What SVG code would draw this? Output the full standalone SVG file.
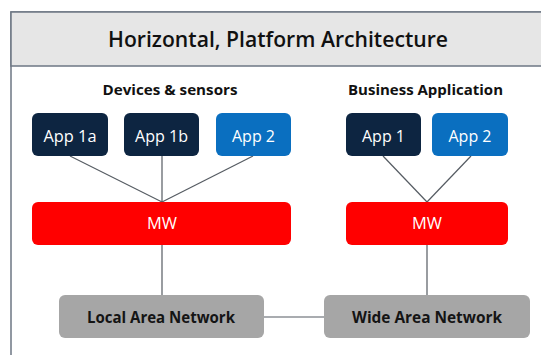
<svg xmlns="http://www.w3.org/2000/svg" width="541" height="355" viewBox="0 0 541 355">
<style>
.t{font-family:"Open Sans","Noto Sans","Liberation Sans",sans-serif;}
.app{fill:#0d2541;}
.app2{fill:#0a6fc0;}
.mw{fill:#ff0000;}
.net{fill:#a6a6a6;}
.lbl{font-size:16px;font-weight:500;fill:#ffffff;text-anchor:middle;}
.nl{font-size:16px;font-weight:bold;fill:#141414;text-anchor:middle;}
.hd{font-size:15px;font-weight:bold;fill:#111111;text-anchor:middle;}
.c{stroke:#555b62;stroke-width:1.2;fill:none;}
</style>
<rect x="0" y="0" width="541" height="355" fill="#ffffff"/>
<g id="frame">
<rect x="11" y="12" width="540" height="360" fill="#ffffff" stroke="#6d7784" stroke-width="1.5"/>
<rect x="11" y="12" width="540" height="54" fill="#e6e6e6" stroke="#6d7784" stroke-width="1.5"/>
<text class="t" x="278" y="47" font-size="21" font-weight="600" fill="#111111" text-anchor="middle" textLength="340" lengthAdjust="spacingAndGlyphs">Horizontal, Platform Architecture</text>
</g>
<g id="headers">
<text class="t hd" x="170" y="95" textLength="135" lengthAdjust="spacingAndGlyphs">Devices &amp; sensors</text>
<text class="t hd" x="425.5" y="95" textLength="155" lengthAdjust="spacingAndGlyphs">Business Application</text>
</g>
<g id="connectors">
<line class="c" x1="70" y1="156" x2="162" y2="202"/>
<line class="c" x1="162" y1="156" x2="162" y2="202"/>
<line class="c" x1="253" y1="156" x2="162" y2="202"/>
<line class="c" x1="383" y1="156" x2="427" y2="202"/>
<line class="c" x1="471" y1="156" x2="427" y2="202"/>
<line class="c" x1="162" y1="245" x2="162" y2="295"/>
<line class="c" x1="427" y1="245" x2="427" y2="295"/>
<line class="c" x1="264" y1="317" x2="324" y2="317"/>
</g>
<g id="app1a"><rect class="app" x="32" y="113" width="76" height="43" rx="6"/><text class="t lbl" x="70" y="142" textLength="53" lengthAdjust="spacingAndGlyphs">App 1a</text></g>
<g id="app1b"><rect class="app" x="124" y="113" width="75" height="43" rx="6"/><text class="t lbl" x="161.5" y="142" textLength="53" lengthAdjust="spacingAndGlyphs">App 1b</text></g>
<g id="app2-left"><rect class="app2" x="216" y="113" width="75" height="43" rx="6"/><text class="t lbl" x="253.5" y="142" textLength="43" lengthAdjust="spacingAndGlyphs">App 2</text></g>
<g id="app1-right"><rect class="app" x="346" y="113" width="75" height="43" rx="6"/><text class="t lbl" x="383.5" y="142" textLength="43" lengthAdjust="spacingAndGlyphs">App 1</text></g>
<g id="app2-right"><rect class="app2" x="432" y="113" width="76" height="43" rx="6"/><text class="t lbl" x="470" y="142" textLength="43" lengthAdjust="spacingAndGlyphs">App 2</text></g>
<g id="mw-left"><rect class="mw" x="32" y="202" width="259" height="43" rx="6"/><text class="t lbl" x="162" y="229" textLength="30" lengthAdjust="spacingAndGlyphs">MW</text></g>
<g id="mw-right"><rect class="mw" x="346" y="202" width="162" height="43" rx="6"/><text class="t lbl" x="427" y="229" textLength="30" lengthAdjust="spacingAndGlyphs">MW</text></g>
<g id="lan"><rect class="net" x="59" y="295" width="205" height="43" rx="6"/><text class="t nl" x="161" y="323" textLength="148" lengthAdjust="spacingAndGlyphs">Local Area Network</text></g>
<g id="wan"><rect class="net" x="324" y="295" width="206" height="43" rx="6"/><text class="t nl" x="427" y="323" textLength="150" lengthAdjust="spacingAndGlyphs">Wide Area Network</text></g>
</svg>
